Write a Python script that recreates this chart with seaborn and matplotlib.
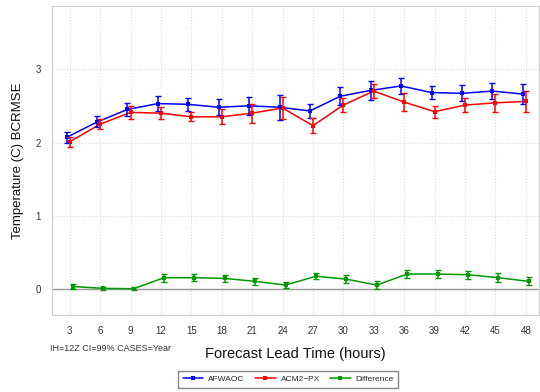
import numpy as np
import pandas as pd
import matplotlib
matplotlib.use("Agg")
import matplotlib.pyplot as plt
import seaborn as sns
from matplotlib.lines import Line2D

lead_hours = [3, 6, 9, 12, 15, 18, 21, 24, 27, 30, 33, 36, 39, 42, 45, 48]
afwaoc = [2.07, 2.28, 2.45, 2.53, 2.52, 2.48, 2.50, 2.48, 2.43, 2.63, 2.71, 2.77, 2.68, 2.67, 2.70, 2.66]
afwaoc_err = [0.07, 0.075, 0.09, 0.10, 0.09, 0.11, 0.12, 0.17, 0.10, 0.12, 0.13, 0.11, 0.09, 0.11, 0.11, 0.14]
acm2px = [2.01, 2.25, 2.41, 2.40, 2.35, 2.35, 2.40, 2.47, 2.23, 2.51, 2.70, 2.55, 2.42, 2.51, 2.54, 2.56]
acm2px_err = [0.07, 0.07, 0.09, 0.08, 0.06, 0.10, 0.13, 0.15, 0.10, 0.09, 0.10, 0.12, 0.08, 0.10, 0.12, 0.14]
difference = [0.04, 0.015, 0.01, 0.16, 0.16, 0.15, 0.11, 0.06, 0.18, 0.14, 0.06, 0.21, 0.21, 0.20, 0.16, 0.11]
difference_err = [0.03, 0.02, 0.02, 0.055, 0.05, 0.045, 0.05, 0.035, 0.04, 0.05, 0.05, 0.06, 0.05, 0.055, 0.06, 0.055]

series_names = ["AFWAOC", "ACM2\u2212PX", "Difference"]
series_colors = ["#0000ff", "#ff0000", "#009900"]
offsets = [-0.3, 0.0, 0.3]

rows = []
for name, vals, errs, off in zip(series_names, [afwaoc, acm2px, difference],
                                 [afwaoc_err, acm2px_err, difference_err], offsets):
    for h, v, e in zip(lead_hours, vals, errs):
        rows.append({"series": name, "lead": h + off, "value": v, "err": e})
df = pd.DataFrame(rows)

sns.set_theme(style="white")
plt.rcParams['font.family'] = ['Liberation Sans', 'DejaVu Sans']

fig = plt.figure(figsize=(5.4, 3.92), dpi=100)
ax = fig.add_axes([0.0963, 0.196, 0.9017, 0.789])

ax.axhline(0, color="#999999", lw=1.0, zorder=1)

palette = dict(zip(series_names, series_colors))
sns.lineplot(data=df, x="lead", y="value", hue="series", palette=palette,
             marker="s", markersize=3.5, markeredgewidth=0, linewidth=1.1,
             ax=ax, legend=False, zorder=3)
for name, col in zip(series_names, series_colors):
    d = df[df.series == name]
    ax.errorbar(d["lead"], d["value"], yerr=d["err"], fmt="none", ecolor=col,
                elinewidth=1.1, capsize=2, capthick=1.0, zorder=3)

ax.set_xlim(1.25, 49.3)
ax.set_ylim(-0.35, 3.86)
ax.set_xticks(lead_hours)
ax.set_xticklabels([str(h) for h in lead_hours])
ax.set_yticks([0, 1, 2, 3])
ax.set_yticklabels(["0", "1", "2", "3"])
ax.tick_params(axis="both", labelsize=7, length=0, pad=8, colors="#333333")
ax.grid(True, color="#dddddd", linestyle=":", linewidth=0.8)
for s in ax.spines.values():
    s.set_color("#cccccc")
    s.set_linewidth(0.8)

ax.set_xlabel("Forecast Lead Time (hours)", fontsize=10.5, labelpad=8, color="#111111")
ax.set_ylabel("Temperature (C) BCRMSE", fontsize=9.5, labelpad=8, color="#111111")

fig.text(0.093, 0.104, "IH=12Z CI=99% CASES=Year", fontsize=6.5, color="#333333")

handles = [Line2D([0, 1], [0, 0], color=c, lw=1.1, marker="s", markersize=2.5,
                  markevery=[1], markeredgewidth=0) for c in series_colors]
leg = fig.legend(handles, series_names, loc="center", bbox_to_anchor=(0.534, 0.032),
                 ncol=3, fontsize=6, frameon=True, fancybox=False, handlelength=2.5,
                 columnspacing=1.2, handletextpad=0.6, borderpad=0.5)
leg.get_frame().set_edgecolor("#666666")
leg.get_frame().set_linewidth(1.0)

fig.savefig("out.png", dpi=100)
